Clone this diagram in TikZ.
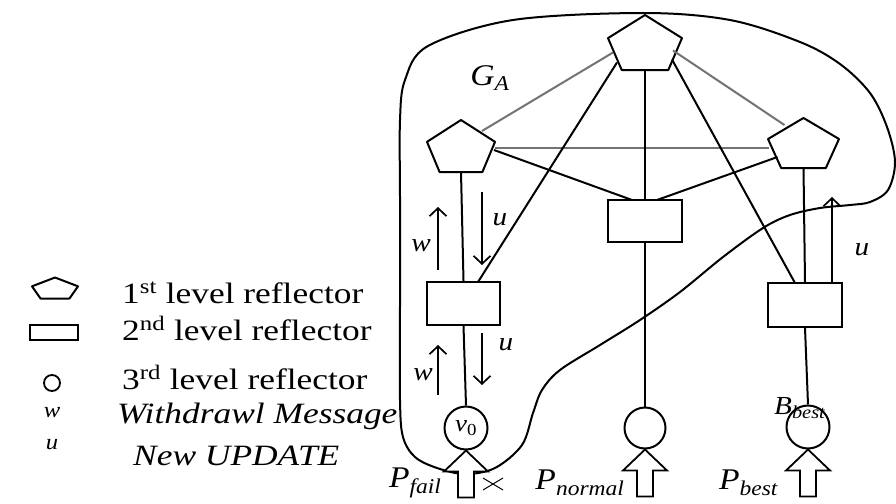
\documentclass[tikz,border=0pt]{standalone}
\usepackage{fontspec}
\setmainfont{Liberation Serif}[FakeStretch=1.12]
\newfontfamily\legfont{Liberation Serif}[FakeStretch=1.2]
\usetikzlibrary{calc,arrows.meta}
\newcommand{\pentnode}[5]{%
  \node[pentbox, minimum width=#4pt, minimum height=#5pt] (#1) at (#2,#3) {};
  \draw[shapeline] (#1.north) -- ($(#1.north east)!0.42!(#1.south east)$)
    -- ($(#1.south)!0.63!(#1.south east)$) -- ($(#1.south)!0.63!(#1.south west)$)
    -- ($(#1.north west)!0.42!(#1.south west)$) -- cycle;}
\begin{document}
\begin{tikzpicture}[x=1pt,y=-1pt,
  pentbox/.style={inner sep=0pt, outer sep=0pt},
  shapeline/.style={line width=2pt, line join=round},
  blk/.style={line width=2pt},
  gry/.style={line width=2pt, draw=black!55},
  rbox/.style={draw, line width=2pt, fill=white, inner sep=0pt, minimum width=74pt, minimum height=42pt},
  rnode/.style={draw, circle, line width=2pt, fill=white, inner sep=0pt, minimum size=43pt},
  msg/.style={line width=1.7pt, -{Straight Barb[length=8pt,width=17pt]}},
  lbl/.style={font=\fontsize{26}{28}\selectfont\itshape},
  leg/.style={font=\legfont\fontsize{29.5}{32}\selectfont, anchor=base west, inner sep=0pt},
  holarrow/.pic={\draw[line width=1.8pt, fill=white, line join=miter]
    (0,0) -- (22,21) -- (8,21) -- (8,47) -- (-8,47) -- (-8,21) -- (-22,21) -- cycle;}
]
\useasboundingbox (0,0) rectangle (896,503);
\fill[white] (0,0) rectangle (896,503);

% outer group boundary G_A
\draw[line width=2pt] plot[smooth cycle, tension=0.55] coordinates {
 (643,13) (730,20) (800,42) (840,64) (870,93) (887,127) (895,162) (888,190)
 (870,202) (850,205) (820,208) (790,215) (763,228) (723,257) (680,292)
 (640,320) (600,345) (560,370) (542,390) (533,413) (522,445) (495,468)
 (465,474) (437,468) (415,457) (403,437) (400,400) (400,300) (400,200)
 (400,120) (405,80) (428,46) (513,20)};
\node[lbl, font=\fontsize{30}{32}\selectfont\itshape] (ga) at (490,78) {G\textsubscript{\textit{A}}};

% nodes
\pentnode{tp}{645}{42.5}{74}{55}
\pentnode{lp}{461}{146}{68}{52}
\pentnode{rp}{803.5}{143}{71}{50}

% connectors (drawn before filled boxes)
\draw[gry] ($(tp.center)+(-32,10)$) -- ($(lp.center)+(21,-15)$);
\draw[gry] ($(tp.center)+(28,8)$) -- ($(rp.center)+(-19,-18)$);
\draw[gry] ($(lp.center)+(34,2)$) -- ($(rp.center)+(-35,5)$);
\draw[blk] (tp.south) -- (645,200);
\draw[blk] ($(tp.center)+(-28,20)$) -- (478,282);
\draw[blk] ($(tp.center)+(27,17)$) -- (795,283);
\draw[blk] ($(lp.center)+(33,4)$) -- (632,200);
\draw[blk] ($(rp.center)+(-26,14)$) -- (657,200);

\node[rbox] (mr) at (645,220.5) {};
\node[rbox, minimum width=73pt, minimum height=43pt] (lr) at (463.5,303.5) {};
\node[rbox, minimum height=44pt] (rr) at (805,305) {};
\node[rnode] (lc) at (466,428) {\fontsize{24}{26}\selectfont\textit{v}\textsubscript{0}};
\node[rnode, minimum size=41pt] (mc) at (645,428) {};
\node[rnode] (rc) at (808,427) {};

\draw[blk] (lp.south) -- (lr.north);
\draw[blk] (lr.south) -- (lc.north);
\draw[blk] (mr.south) -- (mc.north);
\draw[blk] (rp.south) -- (rr.north);
\draw[blk] (rr.south) -- (rc.north);

\node[lbl, font=\fontsize{26}{28}\selectfont] (bb) at (800,408) {\textit{B}\textsubscript{\textit{best}}};

% hollow input arrows
\pic at (lc.south) {holarrow};
\pic at (mc.south) {holarrow};
\pic at (rc.south) {holarrow};

% failure mark
\draw[line width=1pt] (483,478) -- (503,490);
\draw[line width=1pt] (483,490) -- (503,478);

% message arrows
\coordinate (w1s) at (438,270); \coordinate (w1e) at (438,207);
\coordinate (u1s) at (482,192); \coordinate (u1e) at (482,265);
\coordinate (w2s) at (438,395); \coordinate (w2e) at (438,345);
\coordinate (u2s) at (482,333); \coordinate (u2e) at (482,385);
\coordinate (u3e) at (832,197);
\draw[msg] (w1s) -- (w1e);
\draw[msg] (u1s) -- (u1e);
\draw[msg] (w2s) -- (w2e);
\draw[msg] (u2s) -- (u2e);
\draw[msg] (rr.north -| u3e) -- (u3e);
\node[lbl] (lw1) at (421,246) {w};
\node[lbl] (lu1) at (500,220) {u};
\node[lbl] (lw2) at (423,375) {w};
\node[lbl] (lu2) at (506,345) {u};
\node[lbl] (lu3) at (862,250) {u};

% P labels
\node[lbl, font=\fontsize{30}{32}\selectfont, anchor=east] (pf) at (445,483) {\textit{P}\textsubscript{\textit{fail}}};
\node[lbl, font=\fontsize{30}{32}\selectfont, anchor=east] (pn) at (628,483) {\textit{P}\textsubscript{\textit{normal}}};
\node[lbl, font=\fontsize{30}{32}\selectfont, anchor=east] (pb) at (782,483) {\textit{P}\textsubscript{\textit{best}}};

% legend
\pentnode{lgp}{55}{288}{46}{21}
\node[draw, line width=2pt, inner sep=0pt, minimum width=48pt, minimum height=15pt] (lgr) at (54,332) {};
\node[draw, circle, line width=1.8pt, inner sep=0pt, minimum size=16pt] (lgc) at (52,383) {};
\node[lbl, font=\fontsize{22}{24}\selectfont\itshape] (lgw) at (52,413) {w};
\node[lbl, font=\fontsize{22}{24}\selectfont\itshape] (lgu) at (52,445) {u};
\node[leg] (t1) at (122,303) {1\textsuperscript{st} level reflector};
\node[leg] (t2) at (122,340) {2\textsuperscript{nd} level reflector};
\node[leg] (t3) at (122,389) {3\textsuperscript{rd} level reflector};
\node[leg, font=\legfont\fontsize{29.5}{32}\selectfont\itshape] (t4) at (117,423) {Withdrawl Message};
\node[leg, font=\legfont\fontsize{29.5}{32}\selectfont\itshape] (t5) at (133,465) {New UPDATE};
\end{tikzpicture}
\end{document}
